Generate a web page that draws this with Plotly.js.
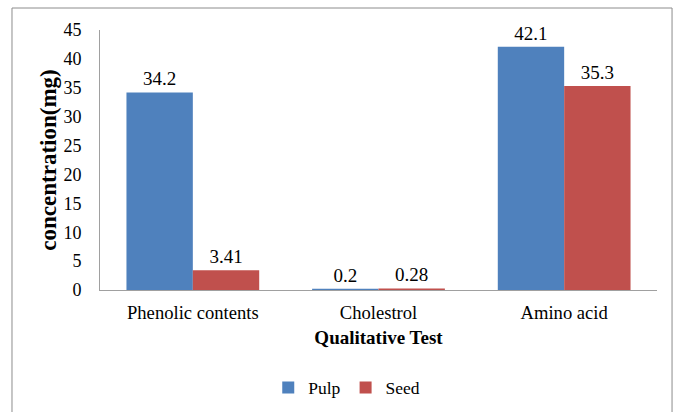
<!DOCTYPE html>
<html><head><meta charset="utf-8">
<script src="https://cdn.plot.ly/plotly-3.0.1.min.js"></script>
<style>html,body{margin:0;padding:0;background:#fff}#c{width:683px;height:412px}</style>
</head><body><div id="c"></div>
<script>
var categories = ["Phenolic contents", "Cholestrol", "Amino acid"];
var pulp = [34.2, 0.2, 42.1];
var seed = [3.41, 0.28, 35.3];
var pulpLabels = ["34.2", "0.2", "42.1"];
var seedLabels = ["3.41", "0.28", "35.3"];
var yTicks = [0, 5, 10, 15, 20, 25, 30, 35, 40, 45];

var font = "Liberation Serif, Times New Roman, serif";
var data = [
  {type: "bar", name: "Pulp", x: categories, y: pulp, text: pulpLabels,
   textposition: "outside", cliponaxis: false, marker: {color: "#4F81BD"},
   textfont: {family: font, size: 19, color: "#000"}, hoverinfo: "none"},
  {type: "bar", name: "Seed", x: categories, y: seed, text: seedLabels,
   textposition: "outside", cliponaxis: false, marker: {color: "#C0504D"},
   textfont: {family: font, size: 19, color: "#000"}, hoverinfo: "none"}
];
var layout = {
  width: 683, height: 412,
  margin: {l: 100, r: 26, t: 30, b: 122, autoexpand: false},
  paper_bgcolor: "#fff", plot_bgcolor: "#fff",
  font: {family: font, color: "#000", size: 18},
  barmode: "group", bargap: 0.285, bargroupgap: 0,
  showlegend: true,
  legend: {orientation: "h", x: 0.443, xanchor: "center", y: -0.375, yanchor: "middle",
           font: {family: font, size: 17.5}, itemwidth: 30, traceorder: "normal"},
  xaxis: {showline: true, linecolor: "#A0A0A0", linewidth: 1, ticks: "", showgrid: false,
          automargin: false,
          tickfont: {family: font, size: 18.6}, ticklabelstandoff: 6,
          title: {text: "<b>Qualitative Test</b>", font: {family: font, size: 19}, standoff: 8}},
  yaxis: {range: [0, 45], tickvals: yTicks, showline: true, linecolor: "#A0A0A0", linewidth: 1,
          ticks: "", showgrid: false, zeroline: false, tickfont: {family: font, size: 18},
          ticklabelstandoff: 14, automargin: false,
          title: {text: "<b>concentration(mg)</b>", font: {family: font, size: 23}, standoff: 0}},
  shapes: [{type: "rect", xref: "paper", yref: "paper", x0: -0.158, x1: 1.027, y0: -0.5, y1: 1.0846,
            line: {color: "#8C8C8C", width: 1}, fillcolor: "rgba(0,0,0,0)", layer: "below"}]
};
Plotly.newPlot("c", data, layout, {staticPlot: true});
</script></body></html>
